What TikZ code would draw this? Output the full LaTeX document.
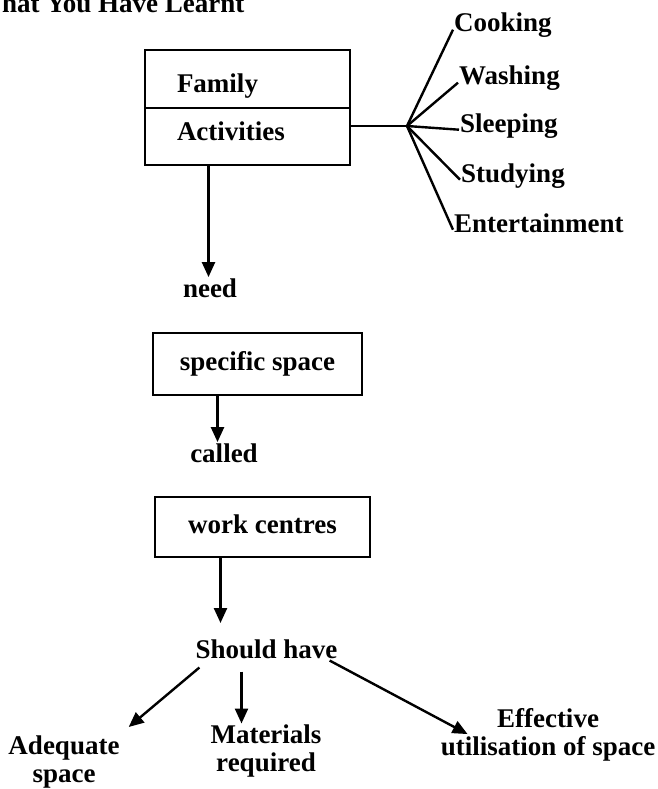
\documentclass[tikz,border=0pt]{standalone}
\usepackage{fontspec}
\setmainfont{Liberation Serif}
\usetikzlibrary{arrows.meta}
\tikzset{
  txt/.style={font=\fontsize{27}{28}\selectfont\bfseries, inner sep=1pt},
  boxnode/.style={txt, draw, line width=2pt, text height=18pt, text depth=6pt},
  ln/.style={line width=2.4pt},
  arr/.style={line width=2.4pt, -{Triangle[length=15pt,width=13pt]}}
}
\begin{document}
\begin{tikzpicture}[x=1pt,y=1pt]
\useasboundingbox (0,0) rectangle (657,-789);
\node[txt, anchor=base west] (title) at (1,-13) {hat You Have Learnt};
% family activities box
\node[boxnode, minimum width=205pt, minimum height=58pt, text width=141pt, align=left, text height=34pt] (fam) at (247.5,-79) {Family};
\node[boxnode, minimum width=205pt, minimum height=57pt, text width=141pt, align=left, text depth=11pt] (act) at (247.5,-136.5) {Activities};
\coordinate (hub) at (407,-126);
\node[txt, anchor=base west] (cook) at (453,-32) {Cooking};
\node[txt, anchor=base west] (wash) at (458,-85) {Washing};
\node[txt, anchor=base west] (sleep) at (459,-132) {Sleeping};
\node[txt, anchor=base west] (study) at (460,-182) {Studying};
\node[txt, anchor=base west] (enter) at (453,-232) {Entertainment};
\draw[ln] (act.east |- hub) -- (hub);
\draw[ln] (hub) -- (cook.mid west);
\draw[ln] (hub) -- (wash.mid west);
\draw[ln] (hub) -- (sleep.mid west);
\draw[ln] (hub) -- (study.mid west);
\draw[ln] (hub) -- (enter.mid west);
% chain down
\node[txt, anchor=base] (need) at (210,-297) {need};
\node[boxnode, minimum width=209pt, minimum height=62pt] (spec) at (257.5,-364) {specific space};
\node[txt, anchor=base] (called) at (224,-462) {called};
\node[boxnode, minimum width=215pt, minimum height=60pt] (work) at (262.5,-527) {work centres};
\node[txt, anchor=base] (should) at (266.5,-658) {Should have};
\draw[arr] ([xshift=-39pt]act.south) -- ([xshift=-39pt]act.south |- need.north);
\draw[arr] ([xshift=-40pt]spec.south) -- ([xshift=-40pt]spec.south |- called.north);
\draw[arr] ([xshift=-42pt]work.south) -- ++(0,-65);
% what they should have
\node[txt, anchor=north, align=center] (ade) at (64,-735) {Adequate\\space};
\node[txt, anchor=north, align=center] (mat) at (266,-723.5) {Materials\\required};
\node[txt, anchor=north, align=center] (eff) at (548,-707.5) {Effective\\utilisation of space};
\draw[arr] ([shift={(5pt,-8pt)}]should.south west) -- ([shift={(8pt,8pt)}]ade.north east);
\draw[arr] ([xshift=-25pt,yshift=-12pt]should.south) -- ([xshift=-25pt]should.south |- mat.north);
\draw[arr] ([shift={(-9pt,-1pt)}]should.south east) -- ([shift={(28pt,1pt)}]eff.west);
\end{tikzpicture}
\end{document}
